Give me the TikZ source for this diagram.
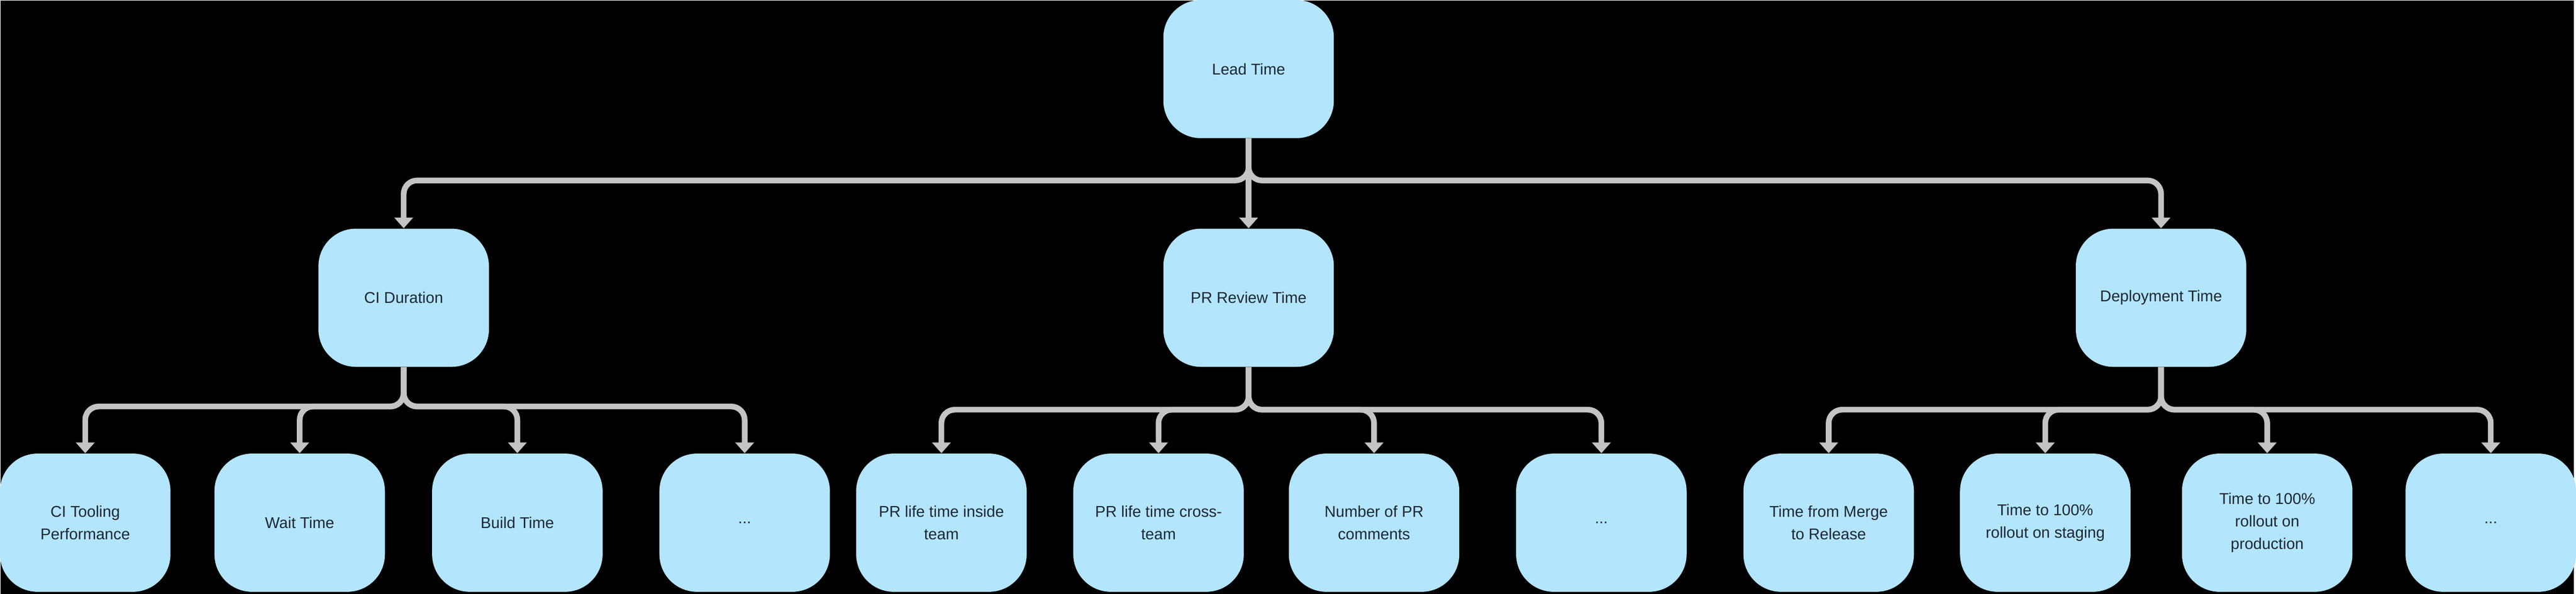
\documentclass[tikz,border=0pt]{standalone}
\usepackage{fontspec}
\setmainfont{Liberation Sans}
\usepackage{xcolor}
\usepackage{tikz}
\usetikzlibrary{positioning,calc,arrows.meta}
\definecolor{boxblue}{HTML}{B3E5FC}
\definecolor{edgegray}{HTML}{C4C4C4}
\definecolor{textnavy}{HTML}{1A2733}
\tikzstyle{box}= [rectangle, rounded corners=0.7cm, fill=boxblue, text=textnavy, minimum width=3.18cm, minimum height=2.58cm, align=center, inner sep=2pt, font=\fontsize{8.3}{11.9}\selectfont]
\tikzstyle{edge}= [draw=edgegray, line width=3pt, rounded corners=0.25cm, -{Triangle[width=0.34cm,length=0.2cm]}]

\begin{document}
\begin{tikzpicture}
				\fill[black] (0,0) rectangle (48,-11.08);
				\node[box] (lead) at (23.28, -1.28) {Lead Time};
				\node[box] (ci) at (7.52, -5.55) {CI Duration};
				\node[box] (pr) at (23.28, -5.55) {PR Review Time};
				\node[box] (dep) at (40.30, -5.55) {Deployment Time};
				\node[box] (tool) at (1.58, -9.75) {CI Tooling\\Performance};
				\node[box] (wait) at (5.58, -9.75) {Wait Time};
				\node[box] (build) at (9.64, -9.75) {Build Time};
				\node[box] (cimore) at (13.88, -9.75) {...};
				\node[box] (inside) at (17.55, -9.75) {PR life time inside\\team};
				\node[box] (cross) at (21.60, -9.75) {PR life time cross-\\team};
				\node[box] (comments) at (25.62, -9.75) {Number of PR\\comments};
				\node[box] (prmore) at (29.86, -9.75) {...};
				\node[box] (merge) at (34.10, -9.75) {Time from Merge\\to Release};
				\node[box] (staging) at (38.14, -9.75) {Time to 100\%\\rollout on staging};
				\node[box] (prod) at (42.28, -9.75) {Time to 100\%\\rollout on\\production};
				\node[box] (depmore) at (46.45, -9.75) {...};
				\coordinate (b0) at (23.28, -3.36);
				\coordinate (b1) at (7.52, -7.58);
				\coordinate (b2) at (23.28, -7.64);
				\coordinate (b3) at (40.30, -7.64);
				\draw[edge] (lead.south) -- (b0) -| (ci.north);
				\draw[edge] (lead.south) -- (pr.north);
				\draw[edge] (lead.south) -- (b0) -| (dep.north);
				\draw[edge] (ci.south) -- (b1) -| (tool.north);
				\draw[edge] (ci.south) -- (b1) -| (wait.north);
				\draw[edge] (ci.south) -- (b1) -| (build.north);
				\draw[edge] (ci.south) -- (b1) -| (cimore.north);
				\draw[edge] (pr.south) -- (b2) -| (inside.north);
				\draw[edge] (pr.south) -- (b2) -| (cross.north);
				\draw[edge] (pr.south) -- (b2) -| (comments.north);
				\draw[edge] (pr.south) -- (b2) -| (prmore.north);
				\draw[edge] (dep.south) -- (b3) -| (merge.north);
				\draw[edge] (dep.south) -- (b3) -| (staging.north);
				\draw[edge] (dep.south) -- (b3) -| (prod.north);
				\draw[edge] (dep.south) -- (b3) -| (depmore.north);
			\end{tikzpicture}
\end{document}
